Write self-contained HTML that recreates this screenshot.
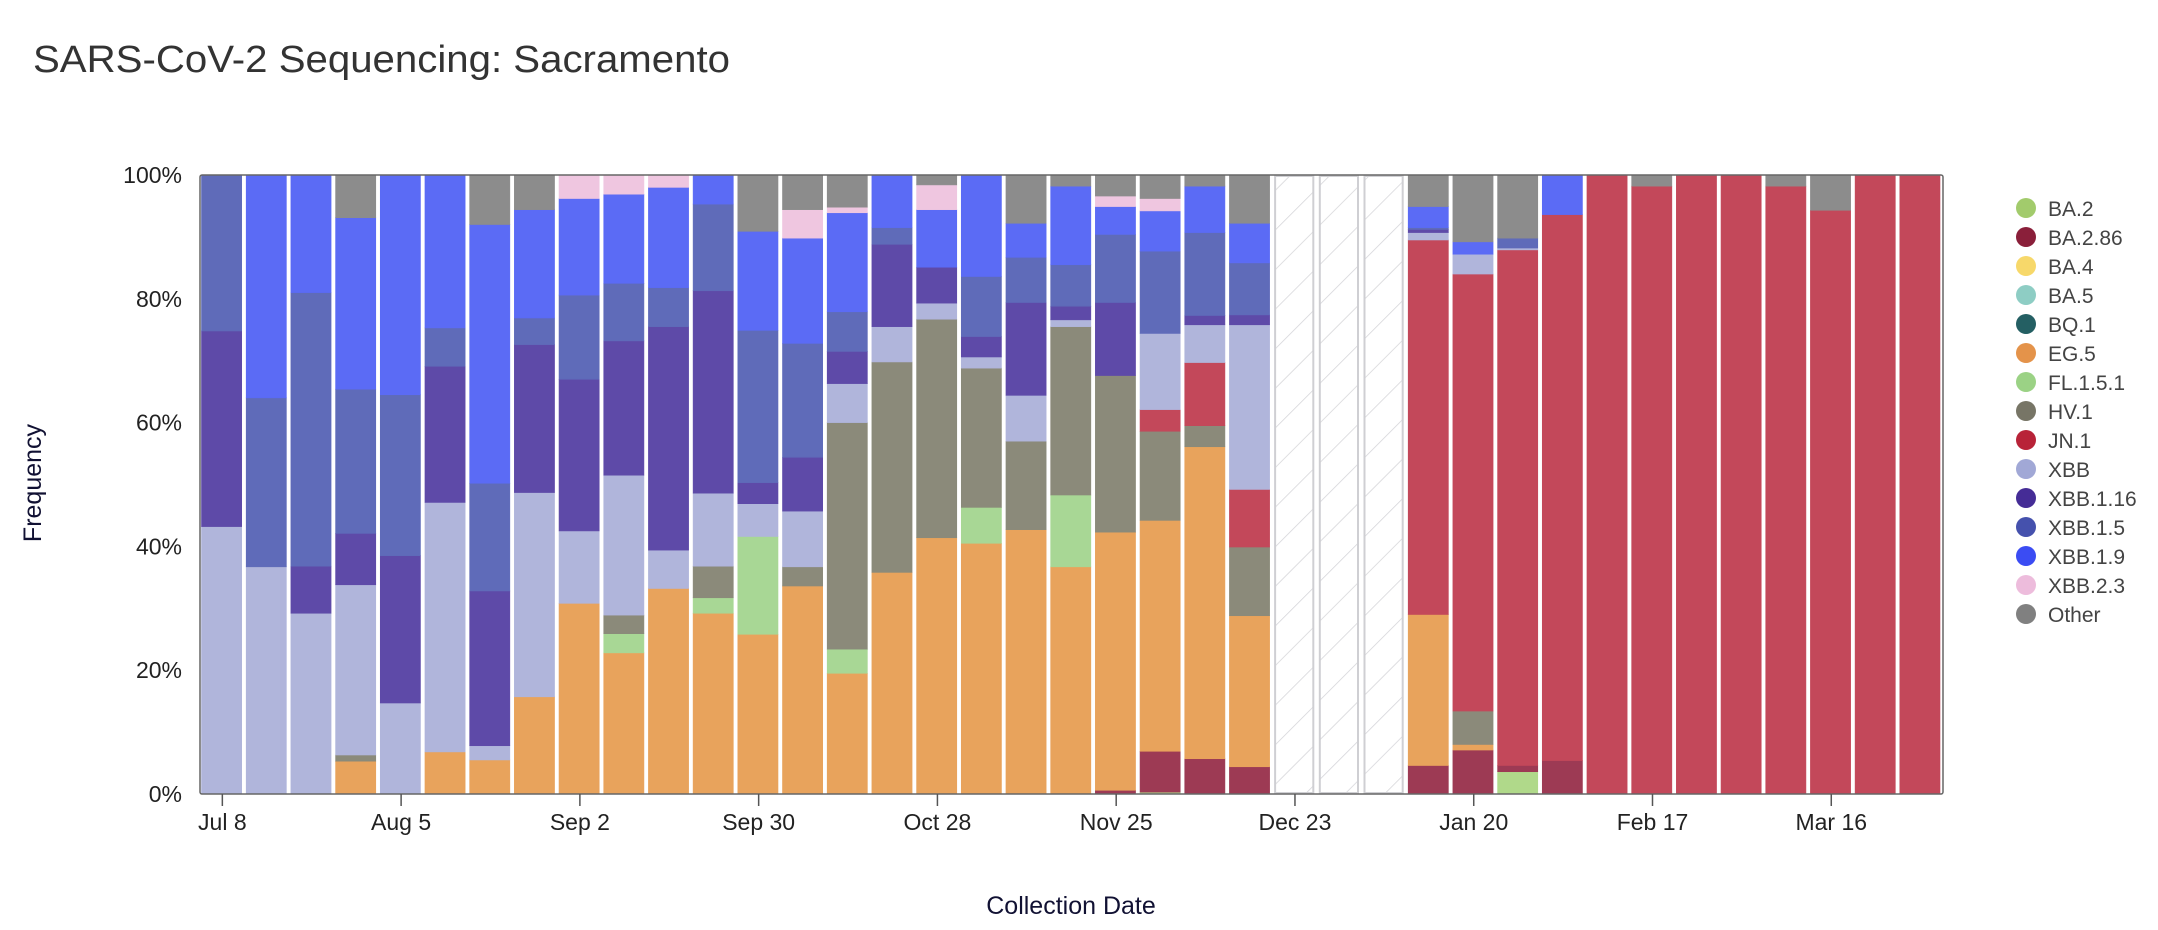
<!DOCTYPE html>
<html><head><meta charset="utf-8"><style>
html,body{margin:0;padding:0;background:#fff;}
svg{display:block;font-family:"Liberation Sans",sans-serif;}
</style></head><body>
<svg id="chart" width="2158" height="930" viewBox="0 0 2158 930">
<defs>
<pattern id="hatch" patternUnits="userSpaceOnUse" width="28" height="28" patternTransform="rotate(45)">
<line x1="0" y1="0" x2="0" y2="28" stroke="#d4d4d8" stroke-width="1.5"/>
</pattern>
</defs>
<text x="33" y="72" font-size="38" fill="#333" textLength="697" lengthAdjust="spacingAndGlyphs">SARS-CoV-2 Sequencing: Sacramento</text>
<text transform="translate(41,483) rotate(-90)" text-anchor="middle" font-size="25" fill="#111133">Frequency</text>
<text x="1071" y="914" text-anchor="middle" font-size="25" fill="#111133">Collection Date</text>
<g id="bars"></g>
<rect x="200" y="175" width="1743" height="619" fill="none" stroke="#666" stroke-width="1.5" rx="2"/>
<g id="axes"></g>
<g id="legend"></g>
</svg>
<script>
const weeks = ["Jul 8","Jul 15","Jul 22","Jul 29","Aug 5","Aug 12","Aug 19","Aug 26","Sep 2","Sep 9","Sep 16","Sep 23","Sep 30","Oct 7","Oct 14","Oct 21","Oct 28","Nov 4","Nov 11","Nov 18","Nov 25","Dec 2","Dec 9","Dec 16","Dec 23","Dec 30","Jan 6","Jan 13","Jan 20","Jan 27","Feb 3","Feb 10","Feb 17","Feb 24","Mar 2","Mar 9","Mar 16","Mar 23","Mar 30"];
const missing = [24,25,26];
const xTickLabels = ["Jul 8","Aug 5","Sep 2","Sep 30","Oct 28","Nov 25","Dec 23","Jan 20","Feb 17","Mar 16"];
const yTicks = [0,20,40,60,80,100];
const lineages = ["BA.2","BA.2.86","EG.5","FL.1.5.1","HV.1","JN.1","XBB","XBB.1.16","XBB.1.5","XBB.1.9","XBB.2.3","Other"];
const barColors = ["#b0d98a","#9d3a54","#e8a35c","#a8d795","#8b8a7a","#c3485a","#b0b5db","#5e4aa8","#5f6bb9","#5b6bf5","#efc6e0","#8c8c8c"];
const legendNames = ["BA.2","BA.2.86","BA.4","BA.5","BQ.1","EG.5","FL.1.5.1","HV.1","JN.1","XBB","XBB.1.16","XBB.1.5","XBB.1.9","XBB.2.3","Other"];
const legendColors = ["#a2cb6c","#8a1f3a","#f7d86a","#8ecdc4","#245f63","#e4934a","#9bd285","#777566","#b82338","#a1a8d6","#452c96","#4551ad","#3b4cf3","#edbcdc","#808080"];
// values per lineage per week (percent)
const BA2    = [0,0,0,0,0,0,0,0,0,0,0,0,0,0,0,0,0,0,0,0,0,0.3,0,0,0,0,0,0,0,3.6,0,0,0,0,0,0,0,0,0];
const BA286  = [0,0,0,0,0,0,0,0,0,0,0,0,0,0,0,0,0,0,0,0,0.6,6.6,5.7,4.4,0,0,0,4.6,7.1,1.0,5.4,0,0,0,0,0,0,0,0];
const EG5    = [0,0,0,5.3,0,6.8,5.5,15.7,30.8,22.8,33.2,29.2,25.8,33.6,19.5,35.8,41.4,40.5,42.7,36.7,41.7,37.3,50.4,24.4,0,0,0,24.4,0.9,0,0,0,0,0,0,0,0,0,0];
const FL151  = [0,0,0,0,0,0,0,0,0,3.1,0,2.5,15.8,0,3.9,0,0,5.8,0,11.6,0,0,0,0,0,0,0,0,0,0,0,0,0,0,0,0,0,0,0];
const HV1    = [0,0,0,1.0,0,0,0,0,0,3.0,0,5.1,0,3.1,36.6,34.0,35.3,22.5,14.3,27.2,25.3,14.4,3.4,11.1,0,0,0,0,5.4,0,0,0,0,0,0,0,0,0,0];
const JN1    = [0,0,0,0,0,0,0,0,0,0,0,0,0,0,0,0,0,0,0,0,0,3.5,10.2,9.3,0,0,0,60.5,70.6,83.3,88.2,100,98.2,100,100,98.2,94.3,100,100];
const XBB    = [43.2,36.7,29.2,27.5,14.7,40.3,2.3,33.0,11.7,22.6,6.2,11.8,5.3,9.0,6.3,5.7,2.6,1.8,7.4,1.1,0,12.3,6.1,26.6,0,0,0,1.2,3.2,0.3,0,0,0,0,0,0,0,0,0];
const XBB116 = [31.6,0,7.6,8.3,23.8,22.0,25.0,23.9,24.5,21.7,36.1,32.7,3.4,8.7,5.2,13.3,5.8,3.3,15.0,2.2,11.8,0,1.5,1.6,0,0,0,0.5,0,0,0,0,0,0,0,0,0,0,0];
const XBB15  = [25.2,27.3,44.2,23.3,26.0,6.2,17.4,4.3,13.6,9.3,6.3,14.0,24.6,18.4,6.4,2.7,0,9.7,7.3,6.7,11.0,13.3,13.4,8.4,0,0,0,0.3,0,1.6,0,0,0,0,0,0,0,0,0];
const XBB19  = [0,36.0,19.0,27.7,35.5,24.7,41.8,17.5,15.6,14.4,16.2,4.7,16.0,17.0,16.0,8.5,9.3,16.4,5.5,12.7,4.5,6.5,7.5,6.4,0,0,0,3.4,2.0,0,6.4,0,0,0,0,0,0,0,0];
const XBB23  = [0,0,0,0,0,0,0,0,3.8,3.1,2.0,0,0,4.6,0.9,0,4.0,0,0,0,1.7,2.0,0,0,0,0,0,0,0,0,0,0,0,0,0,0,0,0,0];
const Other  = [0,0,0,6.9,0,0,8.0,5.6,0,0,0,0,9.1,5.6,5.2,0,1.6,0,7.8,1.8,3.4,3.8,1.8,7.8,0,0,0,5.1,10.8,10.2,0,0,1.8,0,0,1.8,5.7,0,0];
const series = [BA2,BA286,EG5,FL151,HV1,JN1,XBB,XBB116,XBB15,XBB19,XBB23,Other];

const NS="http://www.w3.org/2000/svg";
const PL=200, PR=1943, PT=175, PB=794;
const band=(PR-PL)/weeks.length;
function xBand(i){return PL+i*band;}
function yScale(v){return PB-(v/100)*(PB-PT);}
function mk(tag,attrs,parent){const e=document.createElementNS(NS,tag);for(const k in attrs)e.setAttribute(k,attrs[k]);parent.appendChild(e);return e;}

const gb=document.getElementById('bars');
weeks.forEach((w,i)=>{
  const x=xBand(i)+1.5, bw=band-4.5;
  if(missing.includes(i)){
    const r=mk('rect',{x:x+1,y:PT+1,width:bw-2,height:PB-PT-2,fill:'url(#hatch)',stroke:'#cfcfd3','stroke-width':2},gb);
    
    
    return;
  }
  let total=0; series.forEach(s=>total+=s[i]);
  let cum=0;
  series.forEach((s,k)=>{
    const v=s[i]; if(!v) return;
    const y0=yScale(cum/total*100), y1=yScale((cum+v)/total*100);
    cum+=v;
    const r=mk('rect',{x:x,y:y1,width:bw,height:Math.max(0.5,y0-y1),fill:barColors[k],stroke:barColors[k],'stroke-width':0.6},gb);
    
    
  });
});

const ga=document.getElementById('axes');
yTicks.forEach(t=>{
  const tx=mk('text',{x:182,y:yScale(t)+8,'text-anchor':'end','font-size':23,fill:'#222'},ga);
  tx.textContent=t+'%';
  
  
});
xTickLabels.forEach(lbl=>{
  const i=weeks.indexOf(lbl);
  const cx=xBand(i)+band/2;
  const ln=mk('line',{x1:cx,y1:PB,x2:cx,y2:PB+12,stroke:'#555','stroke-width':1.5},ga);
  
  
  const tx=mk('text',{x:cx,y:PB+36,'text-anchor':'middle','font-size':23,fill:'#222'},ga);
  tx.textContent=lbl;
  
  
});

const gl=document.getElementById('legend');
legendNames.forEach((n,k)=>{
  const y=208+k*29;
  const g=mk('g',{},gl);
  
  
  mk('circle',{cx:2026,cy:y,r:10,fill:legendColors[k]},g);
  const t=mk('text',{x:2048,y:y+8,'font-size':21,fill:'#444'},g);
  t.textContent=n;
});
</script>
</body></html>
